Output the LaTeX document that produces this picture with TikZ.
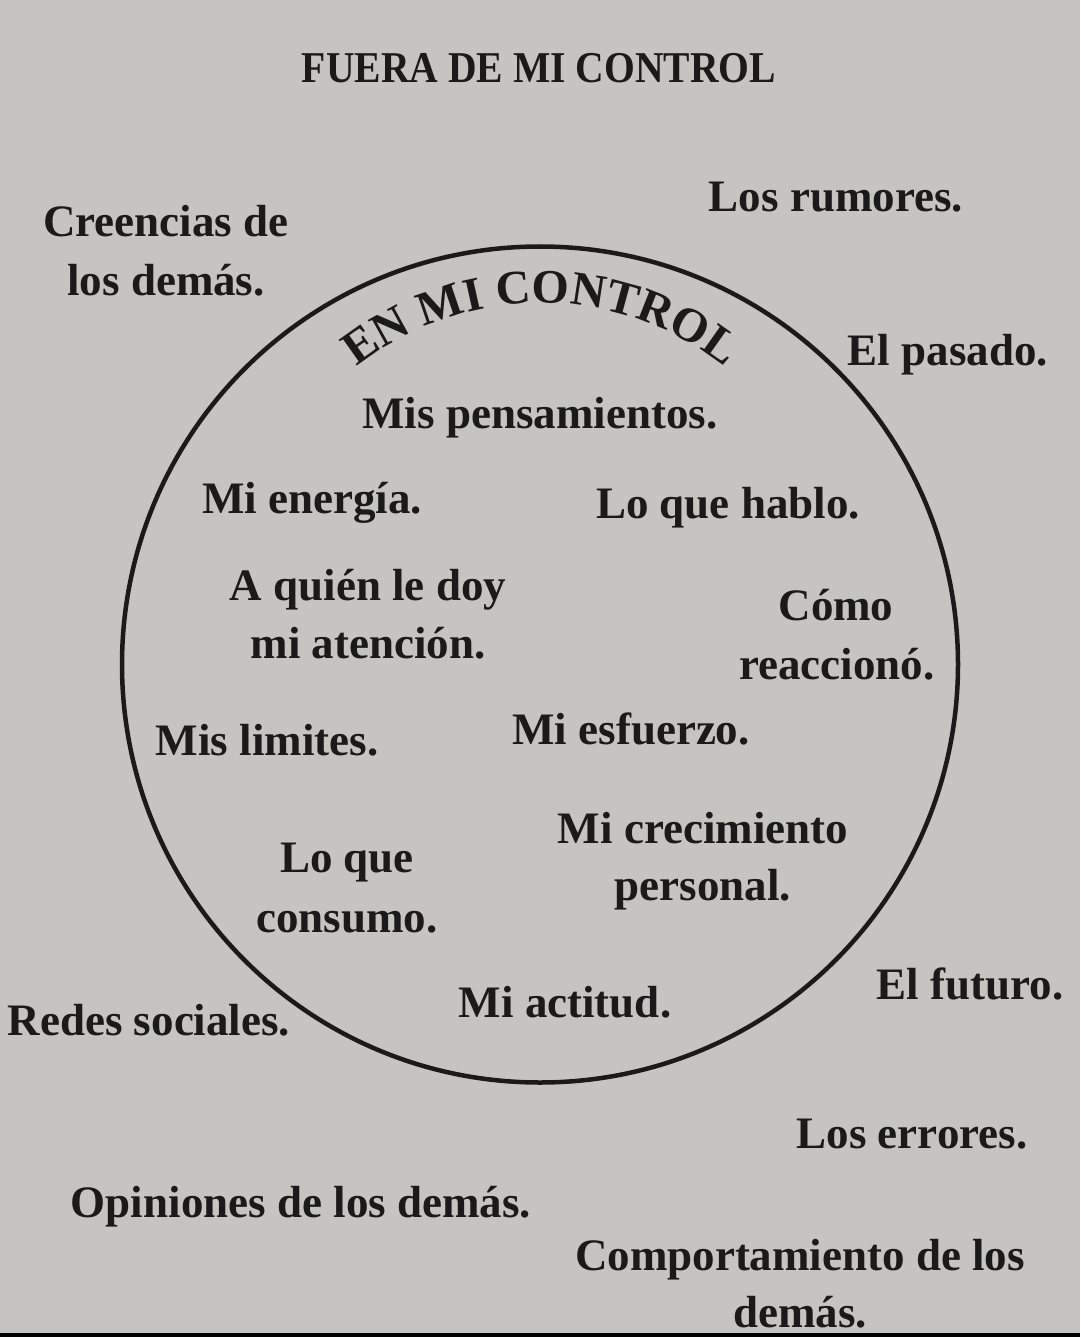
\documentclass[tikz,border=0pt]{standalone}
\usepackage{fontspec}
\setmainfont{Liberation Serif}
\usetikzlibrary{decorations.text}
\definecolor{paper}{HTML}{C6C4C0}
\definecolor{ink}{HTML}{1A1A1A}
\newcommand\bodyfont{\bfseries\fontsize{45}{54}\selectfont}
\newcommand\titlefont{\bfseries\fontsize{44}{50}\selectfont}
\newcommand\arcfont{\bfseries\fontsize{48}{50}\selectfont}
\begin{document}
\begin{tikzpicture}[x=1pt,y=1pt,
  lbl/.style={font=\bodyfont, text=ink, inner sep=0pt, anchor=base},
  ringstyle/.style={circle, draw=ink, line width=4.5pt, minimum size=836pt, inner sep=0pt}]
\useasboundingbox (0,0) rectangle (1080,-1337);
\fill[paper] (0,0) rectangle (1080,-1337);
\fill[black] (0,-1333) rectangle (1080,-1337);

% title
\node[lbl, font=\titlefont, xscale=0.9] (title) at (539,-83) {FUERA DE MI CONTROL};

% circle
\node[ringstyle] (ring) at (540,-664.5) {};

% curved heading
\path[decorate, decoration={text along path, text align=center,
  text color=ink, text={|\arcfont|EN MI CONTROL}}]
  (350.1,-372.5) arc[start angle=130, end angle=50, radius=297];

% outside items
\node[lbl] (rum) at (836,-212) {Los rumores.};
\node[lbl] (creA) at (166,-237) {Creencias de};
\node[lbl] (creB) at (166,-295) {los demás.};
\node[lbl] (pas) at (948,-365) {El pasado.};
\node[lbl] (red) at (149,-1035) {Redes sociales.};
\node[lbl] (fut) at (970,-999) {El futuro.};
\node[lbl] (err) at (912,-1148) {Los errores.};
\node[lbl] (opi) at (301,-1217) {Opiniones de los demás.};
\node[lbl] (comA) at (800,-1270) {Comportamiento de los};
\node[lbl] (comB) at (800,-1327) {demás.};

% inside items
\node[lbl] (pen) at (540,-428) {Mis pensamientos.};
\node[lbl] (ene) at (312,-513) {Mi energía.};
\node[lbl] (hab) at (728,-518) {Lo que hablo.};
\node[lbl] (ateA) at (368,-600) {A quién le doy};
\node[lbl] (ateB) at (368,-658) {mi atención.};
\node[lbl] (reaA) at (836,-620) {Cómo};
\node[lbl] (reaB) at (837,-679) {reaccionó.};
\node[lbl] (lim) at (267,-755) {Mis limites.};
\node[lbl] (esf) at (631,-744) {Mi esfuerzo.};
\node[lbl] (crcA) at (703,-843) {Mi crecimiento};
\node[lbl] (crcB) at (703,-900) {personal.};
\node[lbl] (conA) at (347,-872) {Lo que};
\node[lbl] (conB) at (347,-932) {consumo.};
\node[lbl] (act) at (565,-1017) {Mi actitud.};
\end{tikzpicture}
\end{document}
